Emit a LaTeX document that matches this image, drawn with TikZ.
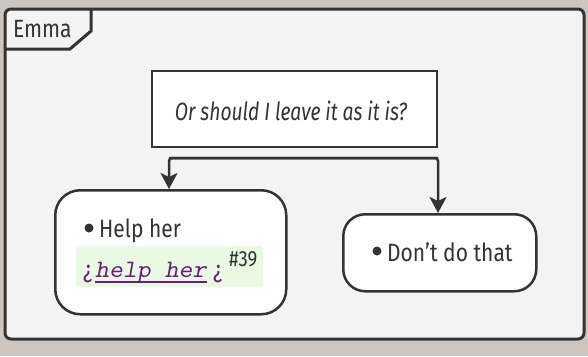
\documentclass[tikz,border=0pt]{standalone}
\usepackage{fontspec}
\setmainfont{Fira Sans}[FakeStretch=0.84, ItalicFeatures={FakeStretch=0.77}]
\newfontfamily\monosl[Extension=.otf, FakeStretch=1.06]{lmmonoslant10-regular}
\usetikzlibrary{arrows.meta}
\definecolor{bgout}{RGB}{205,198,192}
\definecolor{framefill}{RGB}{243,243,243}
\definecolor{ink}{RGB}{51,51,51}
\definecolor{hlgreen}{RGB}{232,250,226}
\definecolor{purp}{RGB}{112,26,128}
\tikzset{
  lbl/.style={inner sep=0pt, text=ink, font=\fontsize{25}{28}\selectfont},
  boxline/.style={draw=ink, line width=2.5pt, fill=white},
  arr/.style={draw=ink, line width=2.5pt, -{Stealth[length=16pt,width=17pt,inset=4pt]}},
  bullet/.style={circle, fill=ink, inner sep=0pt, minimum size=9pt}
}
\begin{document}
\begin{tikzpicture}[x=1pt,y=1pt]
\useasboundingbox (0,0) rectangle (588,-356);
\fill[bgout] (0,0) rectangle (588,-356);
% frame
\draw[draw=ink, line width=3pt, fill=framefill, rounded corners=6pt] (5,-9) rectangle (584,-339);
\draw[draw=ink, line width=3pt] (5,-49) -- (70,-49) -- (91,-31) -- (91,-9);
\node[lbl, anchor=base west] (emma) at (13,-37) {Emma};
% question
\draw[boxline] (152,-71) rectangle (437,-147);
\node[lbl, anchor=base, font=\fontsize{25}{28}\selectfont\itshape] (q) at (291,-120) {Or should I leave it as it is?};
% boxes
\node[boxline, rounded corners=25pt, minimum width=231pt, minimum height=124pt, anchor=north west] (help) at (54,-189) {};
\node[boxline, rounded corners=22pt, minimum width=193pt, minimum height=77pt, anchor=north west] (dont) at (342,-213) {};
% connectors
\coordinate (fl) at (169,-158);
\coordinate (fr) at (438,-158);
\draw[arr, rounded corners=3pt] (fr) -- (fl) -- (fl |- help.north);
\draw[arr, rounded corners=3pt] (fl) -- (fr) -- (fr |- dont.north);
% help content
\node[bullet] (b1) at (89,-228) {};
\node[lbl, anchor=base west] (t1) at (99,-237) {Help her};
\fill[hlgreen, rounded corners=3pt] (76,-246) rectangle (263,-287);
\node[lbl, anchor=base west, text=purp] (inv1) at (83,-277) {¿};
\node[lbl, anchor=base west, text=purp, font=\fontsize{25}{28}\monosl] (cmd) at (95,-277) {help her};
\draw[purp, line width=2pt] ([yshift=-5pt]cmd.base west) -- ([yshift=-5pt]cmd.base east);
\node[lbl, anchor=base west, text=purp] (inv2) at (213,-277) {¿};
\node[lbl, anchor=base west, font=\fontsize{22}{24}\selectfont] (ref) at (229,-266) {\#39};
% dont content
\node[bullet] (b2) at (377,-251) {};
\node[lbl, anchor=base west] (t2) at (387,-261) {Don’t do that};
\end{tikzpicture}
\end{document}
